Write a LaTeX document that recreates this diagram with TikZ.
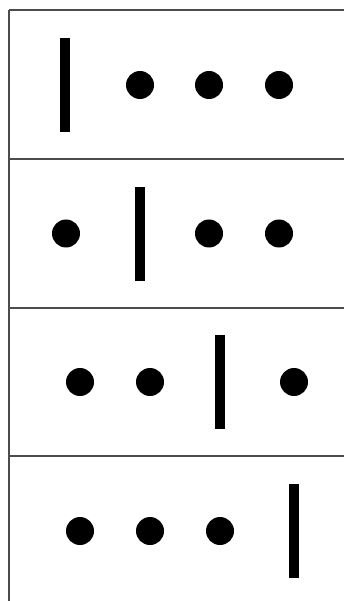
\documentclass[tikz,border=0pt]{standalone}
\begin{document}
\begin{tikzpicture}[x=1pt,y=-1pt,
  frameline/.style={draw=black!70,line width=1.2pt},
  dotmark/.style={circle,fill=black,inner sep=0pt,minimum size=28pt},
  barmark/.style={rectangle,fill=black,inner sep=0pt,minimum width=10pt,minimum height=94pt}]
\useasboundingbox (0,0) rectangle (344,601);
\fill[white] (0,0) rectangle (344,601);
% frame
\coordinate (tl) at (9,10);
\coordinate (bl) at (9,601);
\draw[frameline] (tl) -- (bl);
\foreach \yy/\nm in {10/a,159/b,308/c,456/d}{
  \coordinate (L\nm) at (9,\yy);
  \coordinate (R\nm) at (344,\yy);
  \draw[frameline] (L\nm) -- (R\nm);
}
% panel 1
\node[barmark] (b1) at (65,85) {};
\node[dotmark] (d11) at (140,85) {};
\node[dotmark] (d12) at (209,85) {};
\node[dotmark] (d13) at (279,85) {};
% panel 2
\node[dotmark] (d21) at (66,233.5) {};
\node[barmark] (b2) at (139.5,234) {};
\node[dotmark] (d22) at (209,233.5) {};
\node[dotmark] (d23) at (279,233.5) {};
% panel 3
\node[dotmark] (d31) at (80,382) {};
\node[dotmark] (d32) at (150,382) {};
\node[barmark] (b3) at (219.5,382) {};
\node[dotmark] (d33) at (294,382) {};
% panel 4
\node[dotmark] (d41) at (80,531) {};
\node[dotmark] (d42) at (150,531) {};
\node[dotmark] (d43) at (220,531) {};
\node[barmark] (b4) at (294,530.5) {};
\end{tikzpicture}
\end{document}
